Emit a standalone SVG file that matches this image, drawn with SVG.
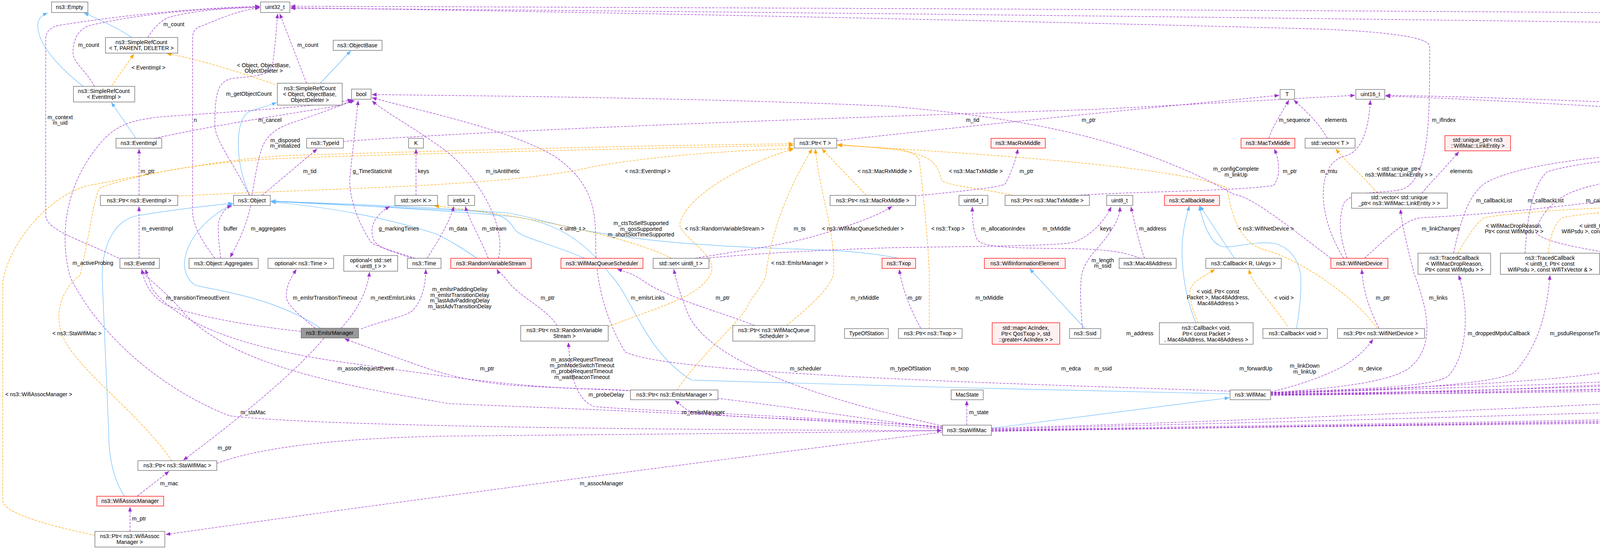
<svg xmlns="http://www.w3.org/2000/svg" width="6868" height="1405" viewBox="0 0 6868 1405">
<style>
text{font-family:"Liberation Sans",Arial,sans-serif;font-size:14px;fill:#000}
.nl text,.lb{text-anchor:middle}
.b{fill:#fff;stroke:#666;stroke-width:1.3}
.r{fill:#fff0f0;stroke:#f00;stroke-width:1.3}
.g{fill:#999;stroke:#666;stroke-width:1.3}
.u{fill:none;stroke:#9a32cd;stroke-width:1.2;stroke-dasharray:6,3}
.i{fill:none;stroke:#63b8ff;stroke-width:1.2}
.t{fill:none;stroke:#ffa500;stroke-width:1.2;stroke-dasharray:6,3}
.u{marker-end:url(#mu)}.i{marker-end:url(#mi)}.t{marker-end:url(#mt)}
</style>
<defs>
<marker id="mu" viewBox="0 0 10 10" refX="10" refY="5" markerWidth="12" markerHeight="12" markerUnits="userSpaceOnUse" orient="auto"><path d="M0,1L10,5L0,9z" fill="#9a32cd"/></marker>
<marker id="mi" viewBox="0 0 10 10" refX="10" refY="5" markerWidth="12" markerHeight="12" markerUnits="userSpaceOnUse" orient="auto"><path d="M0,1L10,5L0,9z" fill="#63b8ff"/></marker>
<marker id="mt" viewBox="0 0 10 10" refX="10" refY="5" markerWidth="12" markerHeight="12" markerUnits="userSpaceOnUse" orient="auto"><path d="M0,1L10,5L0,9z" fill="#ffa500"/></marker>
</defs>
<rect width="6868" height="1405" fill="#fff"/>
<g id="edges">
<path class="i" d="M337,96 C300,70 250,48 215,33"/>
<path class="i" d="M213,221 C160,180 100,120 97,70 C95,50 105,40 122,33"/>
<path class="i" d="M348,354 L285,262"/>
<path class="i" d="M820,213 L898,130"/>
<path class="i" d="M640,500 C600,420 600,300 640,285 C670,275 690,270 708,262"/>
<path class="i" d="M821,840 C700,760 560,745 500,730 C440,690 480,580 596,522"/>
<path class="i" d="M319,1270 C285,1220 278,1150 278,1100 L262,720 C258,620 300,560 352,552 C450,535 550,525 596,520"/>
<path class="i" d="M1221,661 C1190,640 1160,620 1120,600 C1000,560 850,530 694,517"/>
<path class="i" d="M1497,661 C1400,620 1340,610 1320,590 C1300,560 1290,545 1200,540 C1000,530 850,522 694,516"/>
<path class="i" d="M2300,661 C2200,640 2100,640 2000,636 C1500,620 1400,560 1300,545 C1100,530 850,520 694,515"/>
<path class="i" d="M3149,1008 C2800,1000 2100,985 1771,973 C1650,900 1620,760 1560,700 C1500,620 1420,560 1287,552 C1100,535 850,522 694,514"/>
<path class="i" d="M2538,1096 L3147,1018"/>
<path class="i" d="M2778,841 L2636,688"/>
<path class="i" d="M3160,661 L3072,527"/>
<path class="i" d="M3061,826 C3035,760 3026,700 3026,640 C3026,600 3035,560 3045,527"/>
<path class="i" d="M3319,841 C3330,780 3332,720 3329,700 C3320,650 3290,630 3263,623 C3200,615 3150,640 3123,629 C3095,615 3080,570 3070,527"/>
<path class="t" d="M286,219 L343,138"/>
<path class="t" d="M704,216 C600,180 500,150 427,137"/>
<path class="t" d="M455,502 C800,482 1300,480 1521,426 C1700,395 1900,385 2031,380"/>
<path class="t" d="M440,1179 C350,1050 200,950 160,860 C130,780 180,720 205,705 C230,600 240,500 257,480 C400,430 600,410 733,405 C1000,395 1600,380 2031,372"/>
<path class="t" d="M243,1370 C100,1340 7,1310 7,1280 L7,720 C30,600 150,480 249,471 C400,440 600,405 733,398 C1000,390 1600,372 2031,368"/>
<path class="t" d="M1557,836 C1700,780 1790,760 1820,700 C1840,650 1730,600 1741,570 C1760,500 1900,420 2032,381"/>
<path class="t" d="M1733,998 C1800,900 1900,820 1915,780 C1940,740 1960,720 1961,700 C1980,550 2050,430 2079,381"/>
<path class="t" d="M2013,833 C2080,780 2130,730 2134,700 C2140,600 2100,500 2087,381"/>
<path class="t" d="M2218,500 L2104,381"/>
<path class="t" d="M2595,500 C2500,480 2420,475 2410,460 C2400,420 2390,395 2280,382 C2220,376 2180,372 2144,370"/>
<path class="t" d="M2379,841 L2379,700 C2375,600 2360,460 2353,408 C2340,385 2300,382 2280,380 C2220,376 2180,373 2144,372"/>
<path class="t" d="M3526,841 C3470,760 3330,665 3240,640 C3160,620 3150,520 3140,480 C3000,420 2400,388 2144,371"/>
<path class="t" d="M3526,494 C3480,440 3440,410 3420,381"/>
<path class="t" d="M1719,661 C1600,600 1300,545 1112,527"/>
<path class="t" d="M3068,826 C3050,790 3046,760 3046,745 C3050,720 3080,710 3110,689"/>
<path class="t" d="M3296,835 C3260,780 3210,730 3200,700 L3197,689"/>
<path class="t" d="M3732,648 C3760,600 3780,570 3800,557 C3950,530 4400,521 4790,514"/>
<path class="t" d="M3963,648 C3970,600 3980,570 4000,557 C4100,535 4500,520 4790,513"/>
<path class="t" d="M4219,655 C4225,600 4235,570 4260,555 C4400,530 4600,520 4790,512"/>
<path class="t" d="M4450,655 C4450,610 4455,575 4480,560 C4560,535 4700,520 4790,515"/>
<path class="t" d="M4681,648 C4685,600 4700,560 4730,545 C4750,530 4770,525 4792,522"/>
<path class="t" d="M4875,640 L4862,535"/>
<path class="t" d="M5160,648 C5120,600 5080,560 5050,545 C5000,530 4970,520 4943,516"/>
<path class="t" d="M5513,655 C5480,610 5440,580 5400,565 C5300,540 5100,520 4943,514"/>
<path class="t" d="M5693,655 C5660,600 5630,570 5600,560 C5400,530 5100,518 4943,513"/>
<path class="t" d="M5909,652 C5870,620 5840,600 5810,580 C5760,560 5720,555 5700,552 C5400,530 5100,518 4943,512"/>
<path class="t" d="M6129,655 C6080,620 6030,580 5964,550 C5900,540 5800,539 5700,539 C5400,525 5100,516 4943,511"/>
<path class="u" d="M378,96 C395,70 411,54 430,45 C500,25 600,20 665,19"/>
<path class="u" d="M242,221 C220,180 187,160 187,136 C187,100 200,75 230,65 C400,25 600,20 665,18"/>
<path class="u" d="M785,213 L716,35"/>
<path class="u" d="M304,661 C200,610 117,590 117,550 L117,100 C117,80 130,70 150,65 C400,25 600,18 665,16"/>
<path class="u" d="M638,500 C600,420 550,360 550,320 C550,230 560,205 600,200 C660,195 690,190 697,170 C705,120 708,60 711,35"/>
<path class="u" d="M550,661 C520,620 493,580 493,540 L493,100 C493,80 500,70 520,65 C580,40 620,25 665,20"/>
<path class="u" d="M396,354 C550,320 750,290 870,270 L904,256"/>
<path class="u" d="M645,500 C655,440 665,380 680,360 C700,330 730,320 760,310 C820,290 870,270 908,257"/>
<path class="u" d="M671,500 L812,381"/>
<path class="u" d="M1063,661 C1000,640 960,630 950,620 C910,560 895,500 895,460 L917,257"/>
<path class="u" d="M1065,500 L1065,381"/>
<path class="u" d="M356,500 L356,381"/>
<path class="u" d="M356,661 L356,528"/>
<path class="u" d="M565,661 C560,620 557,590 560,566 C570,540 580,530 594,527"/>
<path class="u" d="M642,526 C630,580 610,620 589,659"/>
<path class="u" d="M1056,661 C990,640 961,630 955,610 C946,580 960,550 998,528"/>
<path class="u" d="M1093,661 C1120,620 1150,570 1162,528"/>
<path class="u" d="M1250,661 C1230,610 1200,560 1191,528"/>
<path class="u" d="M1276,661 C1300,560 1200,430 1140,385 C1050,320 990,290 952,258"/>
<path class="u" d="M770,848 C600,830 470,800 425,780 C390,760 370,730 363,689"/>
<path class="u" d="M807,840 C760,800 733,780 733,758 C733,730 745,710 759,689"/>
<path class="u" d="M873,840 C910,800 940,750 946,696"/>
<path class="u" d="M924,842 C980,820 1040,810 1056,795 C1080,770 1090,730 1090,689"/>
<path class="u" d="M829,866 C750,960 600,1080 469,1178"/>
<path class="u" d="M1617,1000 C1500,995 1400,992 1300,985 C1200,975 1150,960 1100,945 C1000,910 930,885 882,867"/>
<path class="u" d="M2413,1098 C1900,1060 1300,1040 1150,1033 C900,990 600,940 470,800 C420,740 370,710 362,689"/>
<path class="u" d="M2413,1096 C2100,1060 1800,1000 1500,995 C1300,990 1050,950 900,930 C600,890 450,820 390,740 L372,689"/>
<path class="u" d="M2413,1094 C2000,1060 1600,1050 1520,1040 C1470,1020 1460,950 1455,876"/>
<path class="u" d="M2413,1092 C2100,1070 1800,1070 1760,1050 L1728,1025"/>
<path class="u" d="M2413,1106 C1800,1180 900,1300 424,1368"/>
<path class="u" d="M2413,1102 C1600,1100 800,1090 587,1064 C400,990 250,850 180,710 C150,600 170,480 242,385 C290,320 330,310 400,300 C600,285 800,275 902,255"/>
<path class="u" d="M2413,1090 C2000,1000 1800,900 1760,800 C1740,750 1730,715 1725,689"/>
<path class="u" d="M555,1186 C700,1130 1000,1118 1150,1116 C1800,1110 2200,1106 2411,1102"/>
<path class="u" d="M2475,1088 L2475,1025"/>
<path class="u" d="M352,1269 L433,1206"/>
<path class="u" d="M333,1360 L333,1297"/>
<path class="u" d="M1426,833 C1400,790 1330,760 1300,720 C1285,700 1275,695 1272,689"/>
<path class="u" d="M1932,833 C1850,800 1700,760 1646,718 C1620,700 1600,695 1580,689"/>
<path class="u" d="M2357,840 C2330,790 2310,740 2302,689"/>
<path class="u" d="M2340,502 C2450,490 2560,480 2573,471 C2590,440 2600,410 2606,381"/>
<path class="u" d="M1780,661 C1900,640 2000,630 2100,600 C2200,570 2250,550 2284,528"/>
<path class="u" d="M2757,500 C2900,490 3150,490 3260,475 C3280,450 3275,410 3262,381"/>
<path class="u" d="M2918,661 C2870,640 2800,636 2700,636 C2550,634 2510,630 2500,610 C2490,580 2489,560 2489,529"/>
<path class="u" d="M2930,661 C2915,620 2905,570 2895,529"/>
<path class="u" d="M2771,841 C2766,780 2764,730 2770,700 C2780,660 2808,640 2830,610 C2860,570 2867,550 2867,529"/>
<path class="u" d="M1780,664 C1900,650 2100,640 2280,634 C2500,630 2700,630 2749,620 C2800,600 2830,560 2845,529"/>
<path class="u" d="M2142,360 C2500,320 3000,270 3275,244"/>
<path class="u" d="M879,362 C1300,330 2200,300 2800,280 C3100,265 3350,250 3469,244"/>
<path class="u" d="M3248,354 C3260,320 3280,290 3300,256"/>
<path class="u" d="M3398,354 C3380,320 3350,290 3312,256"/>
<path class="u" d="M3440,661 C3370,550 3370,420 3440,400 C3490,390 3505,320 3508,256"/>
<path class="u" d="M3449,661 C3427,600 3427,560 3440,520 C3470,480 3560,500 3600,480 C3660,440 3660,300 3660,120 C3660,100 3600,85 3400,75 C2500,50 1200,25 744,20"/>
<path class="u" d="M3407,661 C3300,580 3200,500 3160,498 C2900,350 2600,300 2280,272 C1800,250 1200,245 952,242"/>
<path class="u" d="M3493,661 C3560,600 3600,560 3640,557 C4000,540 4300,480 4570,471 C4900,450 5200,400 5388,372"/>
<path class="u" d="M3530,840 C3500,780 3490,740 3486,689"/>
<path class="u" d="M3253,1003 C3350,980 3420,950 3450,930 C3480,910 3500,890 3515,868"/>
<path class="u" d="M3253,1005 C3400,995 3560,980 3610,940 C3680,880 3650,780 3620,700 C3600,620 3590,580 3585,535"/>
<path class="u" d="M3640,494 C3660,470 3690,440 3735,388"/>
<path class="u" d="M3253,1004 C3500,995 3680,990 3710,960 C3760,900 3760,780 3734,704"/>
<path class="u" d="M3253,1005 C3600,1000 3850,980 3880,950 C3940,880 3960,800 3968,704"/>
<path class="u" d="M3253,1006 C3700,990 4100,970 4150,940 C4210,880 4225,780 4224,696"/>
<path class="u" d="M3253,1007 C3800,990 4350,975 4400,950 C4450,900 4460,780 4458,696"/>
<path class="u" d="M3253,1008 C3900,1000 4500,980 4600,950 C4660,900 4670,800 4671,704"/>
<path class="u" d="M3253,1009 C4000,1000 4700,990 4800,950 C4870,880 4890,780 4894,711"/>
<path class="u" d="M3253,1010 C4100,1005 4950,995 5050,950 C5130,880 5160,780 5169,704"/>
<path class="u" d="M3149,1001 C2700,985 1700,960 1600,900 C1540,800 1525,700 1525,625 C1525,540 1520,470 1420,400 C1300,330 1100,290 952,250"/>
<path class="u" d="M3253,1011 C4500,1000 5700,860 6140,776 C6300,740 6360,720 6380,700 C6430,650 6472,600 6472,560 L6472,130 C6472,115 6440,102 6380,98 C5500,68 2000,30 744,21"/>
<path class="u" d="M2538,1104 C4000,1080 5700,1062 6200,1045 C6600,1035 6860,1030 6840,1025 C6700,1020 6631,1015 6631,990 L6631,130 C6631,95 6600,75 6500,65 C6000,35 2000,20 744,16"/>
<path class="u" d="M2538,1103 C4000,1080 5700,1055 6400,1030 C6500,1025 6521,1015 6521,990 L6521,590 C6500,520 6400,440 6360,408 C6250,370 6000,350 5700,335 C5000,300 4000,250 3547,244"/>
<path class="u" d="M3253,1012 C4500,1000 5700,950 5900,880 C6100,810 6300,780 6320,710 L6316,566 C6330,540 6390,520 6393,489 C6390,440 6300,410 6100,395 C5000,330 4000,260 3547,246"/>
<path class="u" d="M2538,1096 C3500,1070 4800,1000 5100,980 C5300,930 5500,780 5553,696"/>
<path class="u" d="M2538,1098 C3500,1075 5200,1030 5450,1000 C5600,970 5700,820 5740,696"/>
<path class="u" d="M2538,1100 C3500,1085 5500,1060 5700,1010 C5800,970 5880,820 5920,696"/>
<path class="u" d="M2538,1101 C3500,1090 5500,1070 5700,1058 C5900,1030 6100,820 6158,696"/>
<path class="u" d="M3721,648 C3740,560 3760,500 3800,470 C3900,410 4200,385 4570,376 C4900,370 5200,367 5387,366"/>
<path class="u" d="M3904,648 C3910,560 3920,480 3960,440 C4050,410 4300,390 4570,385 C4900,378 5200,372 5387,370"/>
<path class="u" d="M4153,652 C4000,630 3930,610 3930,589 C3960,520 4000,490 4100,470 C4300,430 4400,400 4570,398 C4900,390 5200,380 5387,374"/>
<path class="u" d="M4388,652 C4300,620 4250,600 4280,570 C4350,520 4450,490 4570,480 C4900,440 5200,400 5387,378"/>
<path class="u" d="M4934,494 C5100,440 5250,410 5387,380"/>
<path class="u" d="M4751,648 C4780,639 4800,632 4900,630 C5100,626 5300,625 5345,625 C5380,600 5390,560 5389,543 C5410,480 5430,430 5447,389"/>
<path class="u" d="M4920,640 C4950,636 5100,634 5300,634 C5500,634 5560,620 5572,600 C5560,520 5520,460 5469,390"/>
<path class="u" d="M5308,654 C5400,640 5500,630 5600,620 C5680,560 5620,470 5521,390"/>
<path class="u" d="M5609,652 C5700,620 5760,580 5765,540 C5760,480 5700,440 5600,410 L5532,384"/>
<path class="u" d="M5720,655 C5800,640 5900,620 5910,580 C5900,520 5800,460 5620,400 L5532,380"/>
<path class="u" d="M5990,655 C6000,640 6030,600 6030,560 C6000,500 5850,440 5650,390 L5532,376"/>
<path class="u" d="M6220,655 C6240,620 6260,580 6250,540 C6200,480 6000,440 5800,400 C5650,380 5560,372 5532,372"/>
</g>
<g id="labels" class="lb">
<text x="445" y="67">m_count</text><text x="227" y="120">m_count</text><text x="788" y="120">m_count</text>
<text x="380" y="178">&lt; EventImpl &gt;</text>
<text x="675" y="172">&lt; Object, ObjectBase,<tspan x="675" dy="14">ObjectDeleter &gt;</tspan></text>
<text x="637" y="245">m_getObjectCount</text>
<text x="154" y="305">m_context<tspan x="154" dy="14">m_uid</tspan></text>
<text x="500" y="312">n</text><text x="691" y="312">m_cancel</text>
<text x="730" y="364">m_disposed<tspan x="730" dy="14">m_initialized</tspan></text>
<text x="378" y="443">m_ptr</text><text x="793" y="443">m_tid</text><text x="953" y="443">g_TimeStaticInit</text><text x="1084" y="443">keys</text>
<text x="403" y="590">m_eventImpl</text><text x="590" y="590">buffer</text><text x="687" y="590">m_aggregates</text><text x="1021" y="590">g_markingTimes</text>
<text x="238" y="678">m_activeProbing</text>
<text x="506" y="767">m_transitionTimeoutEvent</text><text x="832" y="767">m_emlsrTransitionTimeout</text><text x="1006" y="767">m_nextEmlsrLinks</text>
<text x="1177" y="745">m_emlsrPaddingDelay<tspan x="1177" dy="14.5">m_emlsrTransitionDelay</tspan><tspan x="1177" dy="14.5">m_lastAdvPaddingDelay</tspan><tspan x="1177" dy="14.5">m_lastAdvTransitionDelay</tspan></text>
<text x="197" y="858">&lt; ns3::StaWifiMac &gt;</text><text x="936" y="948">m_assocRequestEvent</text>
<text x="99" y="1014">&lt; ns3::WifiAssocManager &gt;</text><text x="648" y="1060">m_staMac</text>
<text x="575" y="1151">m_ptr</text><text x="433" y="1242">m_mac</text><text x="356" y="1332">m_ptr</text>
<text x="1287" y="443">m_isAntithetic</text><text x="1658" y="443">&lt; ns3::EventImpl &gt;</text><text x="2265" y="443">&lt; ns3::MacRxMiddle &gt;</text>
<text x="1173" y="590">m_data</text><text x="1265" y="590">m_stream</text><text x="1466" y="590">&lt; uint8_t &gt;</text>
<text x="1641" y="576">m_ctsToSelfSupported<tspan x="1641" dy="14.5">m_qosSupported</tspan><tspan x="1641" dy="14.5">m_shortSlotTimeSupported</tspan></text>
<text x="1855" y="590">&lt; ns3::RandomVariableStream &gt;</text><text x="2047" y="590">m_ts</text><text x="2209" y="590">&lt; ns3::WifiMacQueueScheduler &gt;</text>
<text x="2047" y="678">&lt; ns3::EmlsrManager &gt;</text>
<text x="1402" y="767">m_ptr</text><text x="1658" y="767">m_emlsrLinks</text><text x="1850" y="767">m_ptr</text><text x="2214" y="767">m_rxMiddle</text>
<text x="1247" y="948">m_ptr</text>
<text x="1490" y="925">m_assocRequestTimeout<tspan x="1490" dy="15">m_pmModeSwitchTimeout</tspan><tspan x="1490" dy="15">m_probeRequestTimeout</tspan><tspan x="1490" dy="15">m_waitBeaconTimeout</tspan></text>
<text x="2062" y="948">m_scheduler</text><text x="1552" y="1015">m_probeDelay</text><text x="1801" y="1060">m_emlsrManager</text><text x="1540" y="1242">m_assocManager</text>
<text x="2490" y="312">m_tid</text><text x="2787" y="312">m_ptr</text><text x="3314" y="312">m_sequence</text><text x="3420" y="312">elements</text>
<text x="2498" y="443">&lt; ns3::MacTxMiddle &gt;</text><text x="2628" y="443">m_ptr</text>
<text x="3164" y="437">m_configComplete<tspan x="3164" dy="15">m_linkUp</tspan></text>
<text x="3302" y="443">m_ptr</text><text x="3402" y="443">m_mtu</text>
<text x="2427" y="590">&lt; ns3::Txop &gt;</text><text x="2568" y="590">m_allocationIndex</text><text x="2705" y="590">m_txMiddle</text><text x="2831" y="590">keys</text><text x="2951" y="590">m_address</text><text x="3241" y="590">&lt; ns3::WifiNetDevice &gt;</text>
<text x="2823" y="671">m_length<tspan x="2823" dy="14">m_ssid</tspan></text>
<text x="2342" y="767">m_ptr</text><text x="2533" y="767">m_txMiddle</text>
<text x="3118" y="751">&lt; void, Ptr&lt; const<tspan x="3118" dy="15">Packet &gt;, Mac48Address,</tspan><tspan x="3118" dy="15">Mac48Address &gt;</tspan></text>
<text x="3287" y="767">&lt; void &gt;</text><text x="2918" y="858">m_address</text>
<text x="2331" y="948">m_typeOfStation</text><text x="2457" y="948">m_txop</text><text x="2742" y="948">m_edca</text><text x="2824" y="948">m_ssid</text><text x="3215" y="948">m_forwardUp</text>
<text x="3340" y="941">m_linkDown<tspan x="3340" dy="15">m_linkUp</tspan></text>
<text x="2506" y="1060">m_state</text>
<text x="3696" y="312">m_ifIndex</text>
<text x="3581" y="437">&lt; std::unique_ptr&lt;<tspan x="3581" dy="15">ns3::WifiMac::LinkEntity &gt; &gt;</tspan></text>
<text x="3741" y="443">elements</text>
<text x="3825" y="518">m_callbackList</text><text x="3957" y="518">m_callbackList</text><text x="4106" y="518">m_callbackList</text><text x="4493" y="518">m_callbackList</text>
<text x="3688" y="590">m_linkChanges</text>
<text x="3876" y="583">&lt; WifiMacDropReason,<tspan x="3876" dy="14">Ptr&lt; const WifiMpdu &gt; &gt;</tspan></text>
<text x="4106" y="583">&lt; uint8_t, Ptr&lt; const<tspan x="4106" dy="14">WifiPsdu &gt;, const WifiTxVector &amp; &gt;</tspan></text>
<text x="4353" y="590">&lt; Ptr&lt; const WifiMpdu &gt; &gt;</text><text x="4573" y="590">&lt; const ns3::WifiMacHeader &amp; &gt;</text>
<text x="3540" y="767">m_ptr</text><text x="3682" y="767">m_links</text><text x="3508" y="948">m_device</text>
<text x="3837" y="858">m_droppedMpduCallback</text><text x="4076" y="858">m_psduResponseTimeoutCallback</text>
<text x="4307" y="850">m_ackedMpduCallback<tspan x="4307" dy="15">m_nackedMpduCallback</tspan></text>
<text x="4495" y="850">m_txErrCallback<tspan x="4495" dy="15">m_txOkCallback</tspan></text>
<text x="5304" y="443">m_callbackList</text>
<text x="4787" y="583">&lt; ns3::Ptr&lt; const ns3<tspan x="4787" dy="14">::Packet &gt; &gt;</tspan></text>
<text x="4978" y="576">&lt; uint8_t, WifiPsduMap<tspan x="4978" dy="14.5">*, const std::set&lt; Mac48Address</tspan><tspan x="4978" dy="14.5">&gt; *, std::size_t &gt;</tspan></text>
<text x="5263" y="583">&lt; uint8_t, Ptr&lt; const<tspan x="5263" dy="14">WifiMpdu &gt;, const WifiTxVector &amp; &gt;</tspan></text>
<text x="5466" y="518">m_callbackList</text><text x="5604" y="518">m_callbackList</text>
<text x="5530" y="590">&lt; ns3::Mac48Address &gt;</text><text x="5690" y="590">&lt; ns3::Time &gt;</text>
<text x="4699" y="827">m_macPromiscRxTrace<tspan x="4699" dy="15">m_macRxDropTrace</tspan><tspan x="4699" dy="15">m_macRxTrace</tspan><tspan x="4699" dy="15">m_macTxDropTrace</tspan><tspan x="4699" dy="15">m_macTxTrace</tspan></text>
<text x="4949" y="850">m_psduMapResponseTimeout<tspan x="4949" dy="15">Callback</tspan></text>
<text x="5238" y="858">m_mpduResponseTimeoutCallback</text>
<text x="5367" y="941">m_assocLogger<tspan x="5367" dy="15">m_deAssocLogger</tspan></text>
<text x="5587" y="948">m_beaconArrival</text>
<text x="6542" y="422">m_beMaxAmpduSize<tspan x="6542" dy="15">m_bkMaxAmpduSize</tspan><tspan x="6542" dy="15">m_viMaxAmpduSize</tspan><tspan x="6542" dy="15">m_voMaxAmpduSize</tspan></text>
<text x="5761" y="518">m_callbackList</text><text x="5916" y="518">m_callbackList</text><text x="6023" y="518">m_callbackList</text><text x="6210" y="518">m_callbackList</text><text x="6331" y="518">m_callbackList</text>
<text x="6708" y="518">m_maxMissedBeacons</text>
<text x="5924" y="583">&lt; ns3::StaWifiMac::<tspan x="5924" dy="14">ApInfo &gt;</tspan></text>
<text x="6164" y="590">&lt; uint8_t, ns3::Mac48Address &gt;</text>
<text x="6400" y="568">m_beMaxAmsduSize<tspan x="6400" dy="15">m_bkMaxAmsduSize</tspan><tspan x="6400" dy="15">m_viMaxAmsduSize</tspan><tspan x="6400" dy="15">m_voMaxAmsduSize</tspan></text>
<text x="6547" y="678">m_aid</text><text x="5784" y="948">m_beaconInfo</text>
<text x="5999" y="941">m_setupCanceled<tspan x="5999" dy="15">m_setupCompleted</tspan></text>
</g>
<g class="nl">
<g id="n_empty"><rect class="b" x="132" y="5" width="93" height="27"/><text x="178" y="23">ns3::Empty</text></g>
<g id="n_uint32"><rect class="b" x="667" y="5" width="75" height="27"/><text x="704" y="23">uint32_t</text></g>
<g id="n_srcT"><rect class="b" x="270" y="96" width="185" height="40"/><text x="362" y="113">ns3::SimpleRefCount<tspan x="362" dy="15">&lt; T, PARENT, DELETER &gt;</tspan></text></g>
<g id="n_objbase"><rect class="b" x="853" y="103" width="125" height="26"/><text x="915" y="121">ns3::ObjectBase</text></g>
<g id="n_srcE"><rect class="b" x="188" y="221" width="157" height="40"/><text x="266" y="238">ns3::SimpleRefCount<tspan x="266" dy="15">&lt; EventImpl &gt;</tspan></text></g>
<g id="n_srcO"><rect class="b" x="710" y="213" width="166" height="56"/><text x="793" y="231">ns3::SimpleRefCount<tspan x="793" dy="15">&lt; Object, ObjectBase,</tspan><tspan x="793" dy="15">ObjectDeleter &gt;</tspan></text></g>
<g id="n_bool"><rect class="b" x="900" y="228" width="50" height="26"/><text x="925" y="246">bool</text></g>
<g id="n_eventimpl"><rect class="b" x="297" y="354" width="117" height="25"/><text x="355" y="371">ns3::EventImpl</text></g>
<g id="n_typeid"><rect class="b" x="785" y="354" width="94" height="25"/><text x="832" y="371">ns3::TypeId</text></g>
<g id="n_K"><rect class="b" x="1046" y="354" width="38" height="25"/><text x="1065" y="371">K</text></g>
<g id="n_ptrEI"><rect class="b" x="257" y="500" width="198" height="26"/><text x="356" y="518">ns3::Ptr&lt; ns3::EventImpl &gt;</text></g>
<g id="n_object"><rect class="b" x="598" y="500" width="94" height="26"/><text x="645" y="518">ns3::Object</text></g>
<g id="n_setK"><rect class="b" x="1011" y="500" width="109" height="26"/><text x="1065" y="518">std::set&lt; K &gt;</text></g>
<g id="n_int64"><rect class="b" x="1147" y="500" width="68" height="26"/><text x="1181" y="518">int64_t</text></g>
<g id="n_ptrT"><rect class="b" x="2033" y="354" width="109" height="25"/><text x="2087" y="371">ns3::Ptr&lt; T &gt;</text></g>
<g id="n_ptrRx"><rect class="b" x="2125" y="500" width="219" height="26"/><text x="2234" y="518">ns3::Ptr&lt; ns3::MacRxMiddle &gt;</text></g>
<g id="n_uint64"><rect class="b" x="2455" y="500" width="74" height="26"/><text x="2492" y="518">uint64_t</text></g>
<g id="n_ptrTx"><rect class="b" x="2573" y="500" width="216" height="26"/><text x="2681" y="518">ns3::Ptr&lt; ns3::MacTxMiddle &gt;</text></g>
<g id="n_uint8"><rect class="b" x="2833" y="500" width="67" height="26"/><text x="2866" y="518">uint8_t</text></g>
<g id="n_cbbase"><rect class="r" x="2981" y="500" width="141" height="26"/><text x="3051" y="518">ns3::CallbackBase</text></g>
<g id="n_T"><rect class="b" x="3277" y="229" width="37" height="25"/><text x="3295" y="246">T</text></g>
<g id="n_uint16"><rect class="b" x="3471" y="229" width="74" height="25"/><text x="3508" y="246">uint16_t</text></g>
<g id="n_macrx"><rect class="r" x="2537" y="354" width="139" height="25"/><text x="2606" y="371">ns3::MacRxMiddle</text></g>
<g id="n_mactx"><rect class="r" x="3177" y="354" width="138" height="25"/><text x="3246" y="371">ns3::MacTxMiddle</text></g>
<g id="n_vecT"><rect class="b" x="3341" y="354" width="128" height="25"/><text x="3405" y="371">std::vector&lt; T &gt;</text></g>
<g id="n_uptr"><rect class="r" x="3699" y="347" width="168" height="39"/><text x="3783" y="363">std::unique_ptr&lt; ns3<tspan x="3783" dy="15">::WifiMac::LinkEntity &gt;</tspan></text></g>
<g id="n_vecU"><rect class="b" x="3460" y="494" width="245" height="39"/><text x="3582" y="510">std::vector&lt; std::unique<tspan x="3582" dy="15">_ptr&lt; ns3::WifiMac::LinkEntity &gt; &gt;</tspan></text></g>
<g id="n_TCs"><rect class="b" x="4792" y="494" width="149" height="39"/><text x="4866" y="510">ns3::TracedCallback<tspan x="4866" dy="15">&lt; Ts &gt;</tspan></text></g>
<g id="n_list"><rect class="r" x="5389" y="347" width="141" height="39"/><text x="5459" y="363">std::list&lt; Callback<tspan x="5459" dy="15">&lt; void, Ts... &gt; &gt;</tspan></text></g>
<g id="n_eventid"><rect class="b" x="307" y="661" width="101" height="26"/><text x="357" y="679">ns3::EventId</text></g>
<g id="n_aggr"><rect class="b" x="484" y="661" width="177" height="26"/><text x="572" y="679">ns3::Object::Aggregates</text></g>
<g id="n_optTime"><rect class="b" x="686" y="661" width="168" height="26"/><text x="770" y="679">optional&lt; ns3::Time &gt;</text></g>
<g id="n_optSet"><rect class="b" x="880" y="654" width="138" height="40"/><text x="949" y="671">optional&lt; std::set<tspan x="949" dy="15">&lt; uint8_t &gt; &gt;</tspan></text></g>
<g id="n_time"><rect class="b" x="1043" y="661" width="86" height="26"/><text x="1086" y="679">ns3::Time</text></g>
<g id="n_rvs"><rect class="r" x="1154" y="661" width="206" height="26"/><text x="1257" y="679">ns3::RandomVariableStream</text></g>
<g id="n_wmqs"><rect class="r" x="1436" y="661" width="210" height="26"/><text x="1541" y="679">ns3::WifiMacQueueScheduler</text></g>
<g id="n_setU8"><rect class="b" x="1672" y="661" width="143" height="26"/><text x="1743" y="679">std::set&lt; uint8_t &gt;</text></g>
<g id="n_txop"><rect class="r" x="2258" y="661" width="86" height="26"/><text x="2301" y="679">ns3::Txop</text></g>
<g id="n_wie"><rect class="r" x="2520" y="661" width="207" height="26"/><text x="2623" y="679">ns3::WifiInformationElement</text></g>
<g id="n_mac48"><rect class="b" x="2865" y="661" width="146" height="26"/><text x="2938" y="679">ns3::Mac48Address</text></g>
<g id="n_cbR"><rect class="b" x="3087" y="661" width="193" height="26"/><text x="3183" y="679">ns3::Callback&lt; R, UArgs &gt;</text></g>
<g id="n_netdev"><rect class="r" x="3407" y="661" width="146" height="26"/><text x="3480" y="679">ns3::WifiNetDevice</text></g>
<g id="n_tcDrop"><rect class="b" x="3630" y="648" width="186" height="54"/><text x="3723" y="665">ns3::TracedCallback<tspan x="3723" dy="15">&lt; WifiMacDropReason,</tspan><tspan x="3723" dy="15">Ptr&lt; const WifiMpdu &gt; &gt;</tspan></text></g>
<g id="n_tcPsdu"><rect class="b" x="3841" y="648" width="254" height="54"/><text x="3968" y="665">ns3::TracedCallback<tspan x="3968" dy="15">&lt; uint8_t, Ptr&lt; const</tspan><tspan x="3968" dy="15">WifiPsdu &gt;, const WifiTxVector &amp; &gt;</tspan></text></g>
<g id="n_tcMpdu"><rect class="b" x="4120" y="655" width="197" height="39"/><text x="4218" y="671">ns3::TracedCallback<tspan x="4218" dy="15">&lt; Ptr&lt; const WifiMpdu &gt; &gt;</tspan></text></g>
<g id="n_tcHdr"><rect class="b" x="4342" y="655" width="235" height="39"/><text x="4459" y="671">ns3::TracedCallback<tspan x="4459" dy="15">&lt; const ns3::WifiMacHeader &amp; &gt;</tspan></text></g>
<g id="n_tcPkt"><rect class="b" x="4602" y="648" width="162" height="54"/><text x="4683" y="665">ns3::TracedCallback<tspan x="4683" dy="15">&lt; ns3::Ptr&lt; const ns3</tspan><tspan x="4683" dy="15">::Packet &gt; &gt;</tspan></text></g>
<g id="n_tcMap"><rect class="b" x="4788" y="640" width="237" height="69"/><text x="4906" y="657">ns3::TracedCallback<tspan x="4906" dy="15">&lt; uint8_t, WifiPsduMap</tspan><tspan x="4906" dy="15">*, const std::set&lt; Mac48Address</tspan><tspan x="4906" dy="15">&gt; *, std::size_t &gt;</tspan></text></g>
<g id="n_tcMpduTx"><rect class="b" x="5049" y="648" width="259" height="54"/><text x="5178" y="665">ns3::TracedCallback<tspan x="5178" dy="15">&lt; uint8_t, Ptr&lt; const</tspan><tspan x="5178" dy="15">WifiMpdu &gt;, const WifiTxVector &amp; &gt;</tspan></text></g>
<g id="n_tcMac"><rect class="b" x="5465" y="655" width="176" height="39"/><text x="5553" y="671">ns3::TracedCallback<tspan x="5553" dy="15">&lt; ns3::Mac48Address &gt;</tspan></text></g>
<g id="n_tcTime"><rect class="b" x="5666" y="655" width="148" height="39"/><text x="5740" y="671">ns3::TracedCallback<tspan x="5740" dy="15">&lt; ns3::Time &gt;</tspan></text></g>
<g id="n_tcAp"><rect class="b" x="5839" y="655" width="202" height="39"/><text x="5940" y="671">ns3::TracedCallback<tspan x="5940" dy="15">&lt; ns3::StaWifiMac::ApInfo &gt;</tspan></text></g>
<g id="n_tcU8Mac"><rect class="b" x="6066" y="655" width="226" height="39"/><text x="6179" y="671">ns3::TracedCallback<tspan x="6179" dy="15">&lt; uint8_t, ns3::Mac48Address &gt;</tspan></text></g>
<g id="n_emlsr"><rect class="g" x="771" y="840" width="147" height="25"/><text x="844" y="857">ns3::EmlsrManager</text></g>
<g id="n_ptrRVS"><rect class="b" x="1333" y="833" width="224" height="40"/><text x="1445" y="850">ns3::Ptr&lt; ns3::RandomVariable<tspan x="1445" dy="15">Stream &gt;</tspan></text></g>
<g id="n_ptrEm"><rect class="b" x="1614" y="998" width="224" height="25"/><text x="1726" y="1015">ns3::Ptr&lt; ns3::EmlsrManager &gt;</text></g>
<g id="n_ptrWMQS"><rect class="b" x="1876" y="833" width="210" height="40"/><text x="1981" y="850">ns3::Ptr&lt; ns3::WifiMacQueue<tspan x="1981" dy="15">Scheduler &gt;</tspan></text></g>
<g id="n_tos"><rect class="b" x="2162" y="841" width="112" height="25"/><text x="2218" y="858">TypeOfStation</text></g>
<g id="n_ptrTxop"><rect class="b" x="2300" y="841" width="163" height="25"/><text x="2381" y="858">ns3::Ptr&lt; ns3::Txop &gt;</text></g>
<g id="n_map"><rect class="r" x="2540" y="826" width="173" height="55"/><text x="2626" y="844">std::map&lt; AcIndex,<tspan x="2626" dy="15">Ptr&lt; QosTxop &gt;, std</tspan><tspan x="2626" dy="15">::greater&lt; AcIndex &gt; &gt;</tspan></text></g>
<g id="n_ssid"><rect class="b" x="2738" y="841" width="80" height="25"/><text x="2778" y="858">ns3::Ssid</text></g>
<g id="n_cbPkt"><rect class="b" x="2968" y="826" width="240" height="55"/><text x="3088" y="844">ns3::Callback&lt; void,<tspan x="3088" dy="15">Ptr&lt; const Packet &gt;</tspan><tspan x="3088" dy="15">, Mac48Address, Mac48Address &gt;</tspan></text></g>
<g id="n_cbVoid"><rect class="b" x="3233" y="841" width="165" height="25"/><text x="3315" y="858">ns3::Callback&lt; void &gt;</text></g>
<g id="n_ptrND"><rect class="b" x="3424" y="841" width="223" height="25"/><text x="3535" y="858">ns3::Ptr&lt; ns3::WifiNetDevice &gt;</text></g>
<g id="n_macstate"><rect class="b" x="2435" y="998" width="82" height="25"/><text x="2476" y="1015">MacState</text></g>
<g id="n_wifimac"><rect class="b" x="3149" y="998" width="104" height="25"/><text x="3201" y="1015">ns3::WifiMac</text></g>
<g id="n_stawifimac"><rect class="b" x="2413" y="1088" width="125" height="26"/><text x="2475" y="1106">ns3::StaWifiMac</text></g>
<g id="n_ptrSta"><rect class="b" x="353" y="1179" width="202" height="25"/><text x="454" y="1196">ns3::Ptr&lt; ns3::StaWifiMac &gt;</text></g>
<g id="n_wam"><rect class="r" x="248" y="1270" width="171" height="25"/><text x="333" y="1287">ns3::WifiAssocManager</text></g>
<g id="n_ptrWAM"><rect class="b" x="243" y="1360" width="179" height="40"/><text x="332" y="1377">ns3::Ptr&lt; ns3::WifiAssoc<tspan x="332" dy="15">Manager &gt;</tspan></text></g>
</g>
</svg>
